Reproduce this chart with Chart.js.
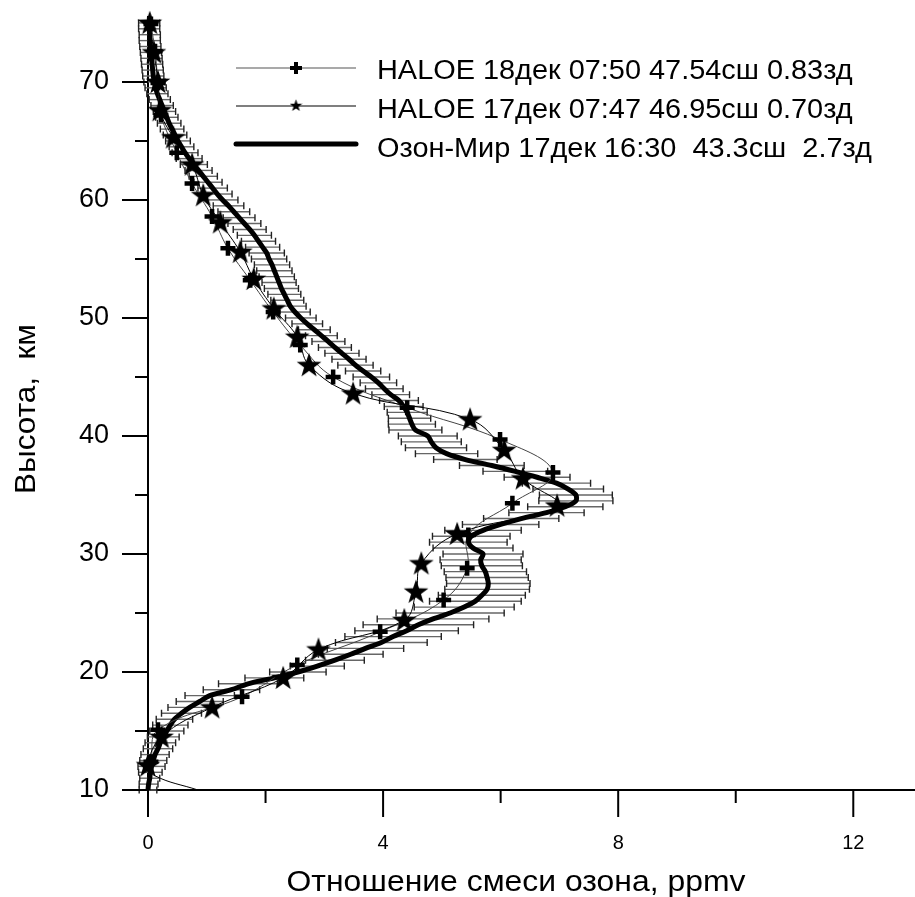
<!DOCTYPE html>
<html>
<head>
<meta charset="utf-8">
<script src="https://cdn.jsdelivr.net/npm/chart.js@4.4.0/dist/chart.umd.min.js"></script>
<style>
  html, body { margin: 0; padding: 0; background: #fff; }
  canvas { display: block; }
</style>
</head>
<body>
<canvas id="ozoneChart" width="915" height="897"></canvas>
<script>
// HALOE 18 dec (crosses)
const haloe18Alt = [74.9, 72.6, 69.9, 67.2, 64.0, 61.4, 58.6, 55.9, 53.2, 50.5, 47.7, 45.0,
  42.4, 39.7, 36.9, 34.3, 31.6, 28.8, 26.1, 23.4, 20.6, 17.9, 15.1, 12.4];
const haloe18Val = [0.05, 0.12, 0.17, 0.22, 0.49, 0.75, 1.09, 1.36, 1.74, 2.13, 2.59, 3.15,
  4.41, 5.99, 6.89, 6.20, 5.45, 5.43, 5.03, 3.95, 2.54, 1.60, 0.17, 0.05];

// HALOE 17 dec (stars), last two points are the tail near the ground, no marker
const haloe17Alt = [75.0, 72.5, 70.0, 67.6, 65.3, 63.0, 60.4, 58.1, 55.6, 53.3, 50.8, 48.4,
  46.0, 43.6, 41.4, 38.8, 36.4, 34.1, 31.7, 29.2, 26.8, 24.4, 21.9, 19.5, 17.0, 14.5, 12.1, 11.2, 10.0];
const haloe17Val = [0.03, 0.10, 0.17, 0.20, 0.43, 0.75, 0.94, 1.23, 1.57, 1.80, 2.14, 2.54,
  2.74, 3.49, 5.48, 6.06, 6.38, 6.96, 5.26, 4.65, 4.56, 4.36, 2.90, 2.30, 1.09, 0.23, 0.00, 0.12, 0.85];

// Ozon-Mir profile with error half-widths
const ozonAlt = [10.0, 10.5, 11.0, 11.5, 12.0, 12.5, 13.0, 13.5, 14.0, 14.5, 15.0, 15.5, 16.0, 16.5,
  17.0, 17.5, 18.0, 18.5, 19.0, 19.5, 20.0, 20.5, 21.0, 21.5, 22.0, 22.5, 23.0, 23.5, 24.0, 24.5,
  25.0, 25.5, 26.0, 26.5, 27.0, 27.5, 28.0, 28.5, 29.0, 29.5, 30.0, 30.5, 31.0, 31.5, 32.0, 32.5,
  33.0, 33.5, 34.0, 34.5, 35.0, 35.5, 36.0, 36.5, 37.0, 37.5, 38.0, 38.5, 39.0, 39.5, 40.0, 40.5,
  41.0, 41.5, 42.0, 42.5, 43.0, 43.5, 44.0, 44.5, 45.0, 45.5, 46.0, 46.5, 47.0, 47.5, 48.0, 48.5,
  49.0, 49.5, 50.0, 50.5, 51.0, 51.5, 52.0, 52.5, 53.0, 53.5, 54.0, 54.5, 55.0, 55.5, 56.0, 56.5,
  57.0, 57.5, 58.0, 58.5, 59.0, 59.5, 60.0, 60.5, 61.0, 61.5, 62.0, 62.5, 63.0, 63.5, 64.0, 64.5,
  65.0, 65.5, 66.0, 66.5, 67.0, 67.5, 68.0, 68.5, 69.0, 69.5, 70.0, 70.5, 71.0, 71.5, 72.0, 72.5,
  73.0, 73.5, 74.0, 74.5, 75.0];
const ozonVal = [0.00, 0.01, 0.03, 0.04, 0.06, 0.09, 0.12, 0.17, 0.21, 0.26, 0.32, 0.38, 0.45, 0.57,
  0.71, 0.88, 1.05, 1.42, 1.70, 2.15, 2.55, 2.88, 3.18, 3.45, 3.70, 3.97, 4.17, 4.40, 4.60, 4.85,
  5.14, 5.38, 5.57, 5.68, 5.77, 5.79, 5.77, 5.74, 5.68, 5.66, 5.70, 5.53, 5.45, 5.50, 5.70, 6.00,
  6.35, 6.78, 7.10, 7.28, 7.28, 7.15, 6.95, 6.62, 6.25, 5.85, 5.40, 5.08, 4.90, 4.82, 4.76, 4.55,
  4.49, 4.45, 4.41, 4.35, 4.27, 4.13, 4.02, 3.92, 3.80, 3.66, 3.53, 3.42, 3.30, 3.18, 3.07, 2.95,
  2.83, 2.71, 2.60, 2.50, 2.42, 2.37, 2.32, 2.27, 2.23, 2.19, 2.15, 2.11, 2.06, 2.02, 1.95, 1.88,
  1.81, 1.73, 1.64, 1.55, 1.46, 1.37, 1.27, 1.18, 1.10, 1.02, 0.94, 0.86, 0.78, 0.70, 0.63, 0.57,
  0.51, 0.46, 0.41, 0.36, 0.32, 0.28, 0.24, 0.20, 0.16, 0.13, 0.11, 0.09, 0.08, 0.07, 0.06, 0.05,
  0.04, 0.03, 0.03, 0.02, 0.02];
const ozonErr = [0.15, 0.16, 0.17, 0.20, 0.23, 0.23, 0.24, 0.25, 0.26, 0.27, 0.29, 0.30, 0.31, 0.34,
  0.37, 0.40, 0.42, 0.48, 0.50, 0.50, 0.48, 0.46, 0.50, 0.55, 0.65, 0.78, 0.82, 0.88, 0.94, 0.95,
  0.92, 0.85, 0.78, 0.74, 0.72, 0.71, 0.70, 0.70, 0.69, 0.69, 0.68, 0.68, 0.66, 0.66, 0.65, 0.65,
  0.64, 0.64, 0.64, 0.63, 0.62, 0.60, 0.58, 0.56, 0.55, 0.55, 0.54, 0.53, 0.52, 0.51, 0.50, 0.45,
  0.40, 0.36, 0.34, 0.33, 0.33, 0.32, 0.32, 0.31, 0.31, 0.30, 0.30, 0.29, 0.29, 0.28, 0.28, 0.27,
  0.27, 0.26, 0.26, 0.26, 0.27, 0.28, 0.28, 0.29, 0.29, 0.30, 0.30, 0.30, 0.30, 0.30, 0.29, 0.29,
  0.29, 0.28, 0.28, 0.27, 0.27, 0.26, 0.26, 0.25, 0.25, 0.24, 0.24, 0.23, 0.23, 0.22, 0.22, 0.21,
  0.21, 0.20, 0.20, 0.20, 0.19, 0.19, 0.19, 0.18, 0.18, 0.18, 0.18, 0.18, 0.18, 0.18, 0.18, 0.18,
  0.18, 0.18, 0.18, 0.18, 0.18];

const seriesLabels = [
  "HALOE 18дек 07:50 47.54сш 0.83зд",
  "HALOE 17дек 07:47 46.95сш 0.70зд",
  "Озон-Мир 17дек 16:30  43.3сш  2.7зд",
];
const xTitle = "Отношение смеси озона, ppmv";
const yTitle = "Высота,  км";

const FONT = "'Liberation Sans', Arial, sans-serif";

function makeStar(size) {
  const c = document.createElement("canvas");
  c.width = size;
  c.height = size;
  const g = c.getContext("2d");
  const r = size / 2;
  g.beginPath();
  for (let i = 0; i < 10; i++) {
    const rad = i % 2 ? r * 0.4 : r;
    const a = -Math.PI / 2 + (i * Math.PI) / 5;
    const px = r + rad * Math.cos(a);
    const py = r * 1.05 + rad * Math.sin(a);
    if (i === 0) g.moveTo(px, py);
    else g.lineTo(px, py);
  }
  g.closePath();
  g.fillStyle = "#000";
  g.fill();
  return c;
}

const bigStar = makeStar(26);
const smallStar = makeStar(13);

const toPoints = (xs, ys) => xs.map((v, i) => ({ x: v, y: ys[i] }));

// error bars under the Ozon-Mir curve
const errorBars = {
  id: "errorBars",
  beforeDatasetsDraw(chart) {
    const { ctx, scales } = chart;
    ctx.save();
    ctx.lineWidth = 1.4;
    for (let i = 0; i < ozonAlt.length; i++) {
      const py = scales.y.getPixelForValue(ozonAlt[i]);
      const x1 = scales.x.getPixelForValue(ozonVal[i] - ozonErr[i]);
      const x2 = scales.x.getPixelForValue(ozonVal[i] + ozonErr[i]);
      ctx.strokeStyle = "#666";
      ctx.beginPath();
      ctx.moveTo(x1, py);
      ctx.lineTo(x2, py);
      ctx.stroke();
      ctx.strokeStyle = "#222";
      ctx.beginPath();
      ctx.moveTo(x1, py - 3.5);
      ctx.lineTo(x1, py + 3.5);
      ctx.moveTo(x2, py - 3.5);
      ctx.lineTo(x2, py + 3.5);
      ctx.stroke();
    }
    ctx.restore();
  },
};

// outward tick marks, long for labelled ticks
const tickMarks = {
  id: "tickMarks",
  afterDraw(chart) {
    const { ctx, scales, chartArea } = chart;
    ctx.save();
    ctx.strokeStyle = "#000";
    ctx.lineWidth = 2;
    ctx.beginPath();
    scales.x.ticks.forEach((t) => {
      const px = scales.x.getPixelForValue(t.value);
      const len = t.value % 4 === 0 ? 27 : 13;
      ctx.moveTo(px, chartArea.bottom);
      ctx.lineTo(px, chartArea.bottom + len);
    });
    scales.y.ticks.forEach((t) => {
      if (t.value > 72) return;
      const py = scales.y.getPixelForValue(t.value);
      const len = t.value % 10 === 0 ? 26 : 13;
      ctx.moveTo(chartArea.left - len, py);
      ctx.lineTo(chartArea.left, py);
    });
    ctx.stroke();
    ctx.restore();
  },
};

// text slightly stretched horizontally, as in the original figure
function wideText(ctx, text, x, y, stretch) {
  ctx.save();
  ctx.translate(x, y);
  ctx.scale(stretch, 1);
  ctx.fillText(text, 0, 0);
  ctx.restore();
}

// axis titles and the legend box
const annotations = {
  id: "annotations",
  afterDraw(chart) {
    const { ctx } = chart;
    ctx.save();
    ctx.fillStyle = "#000";
    ctx.textAlign = "center";
    ctx.textBaseline = "alphabetic";
    ctx.font = "29px " + FONT;
    wideText(ctx, xTitle, 516, 891, 1.1);

    ctx.translate(27, 409);
    ctx.rotate(-Math.PI / 2);
    ctx.textBaseline = "middle";
    ctx.font = "30px " + FONT;
    wideText(ctx, yTitle, 0, 0, 1.05);
    ctx.restore();

    // legend
    ctx.save();
    const lx1 = 236, lx2 = 356, mx = 296;
    const rows = [68, 106, 144];
    ctx.lineCap = "butt";
    ctx.strokeStyle = "#555";
    ctx.lineWidth = 1.2;
    ctx.beginPath();
    ctx.moveTo(lx1, rows[0]);
    ctx.lineTo(lx2, rows[0]);
    ctx.stroke();
    ctx.strokeStyle = "#000";
    ctx.lineWidth = 4;
    ctx.beginPath();
    ctx.moveTo(mx - 6, rows[0]);
    ctx.lineTo(mx + 6, rows[0]);
    ctx.moveTo(mx, rows[0] - 6);
    ctx.lineTo(mx, rows[0] + 6);
    ctx.stroke();

    ctx.lineWidth = 1.2;
    ctx.beginPath();
    ctx.moveTo(lx1, rows[1]);
    ctx.lineTo(lx2, rows[1]);
    ctx.stroke();
    ctx.drawImage(smallStar, mx - 6.5, rows[1] - 7);

    ctx.lineWidth = 5;
    ctx.lineCap = "round";
    ctx.beginPath();
    ctx.moveTo(lx1, rows[2]);
    ctx.lineTo(lx2, rows[2]);
    ctx.stroke();

    ctx.fillStyle = "#000";
    ctx.font = "27px " + FONT;
    ctx.textAlign = "left";
    ctx.textBaseline = "alphabetic";
    wideText(ctx, seriesLabels[0], 377, 79, 1.07);
    wideText(ctx, seriesLabels[1], 377, 118, 1.07);
    wideText(ctx, seriesLabels[2], 377, 157, 1.07);
    ctx.restore();
  },
};

const ctx = document.getElementById("ozoneChart").getContext("2d");

new Chart(ctx, {
  type: "line",
  data: {
    datasets: [
      {
        label: seriesLabels[2],
        data: toPoints(ozonVal, ozonAlt),
        borderColor: "#000",
        borderWidth: 5,
        pointRadius: 0,
        tension: 0.3,
        clip: false,
        order: 3,
      },
      {
        label: seriesLabels[0],
        data: toPoints(haloe18Val, haloe18Alt),
        borderColor: "#444",
        borderWidth: 1,
        tension: 0.4,
        pointStyle: "cross",
        pointRadius: 7.5,
        pointBorderWidth: 4.5,
        pointBorderColor: "#000",
        clip: false,
        order: 2,
      },
      {
        label: seriesLabels[1],
        data: toPoints(haloe17Val, haloe17Alt),
        borderColor: "#000",
        borderWidth: 1,
        tension: 0.4,
        pointStyle: bigStar,
        pointRadius: haloe17Alt.map((a, i) => (i >= haloe17Alt.length - 2 ? 0 : 12)),
        clip: false,
        order: 1,
      },
    ],
  },
  options: {
    responsive: false,
    animation: false,
    layout: { autoPadding: false, padding: { top: 17, right: 0, bottom: 0, left: 0 } },
    plugins: { legend: { display: false }, tooltip: { enabled: false } },
    scales: {
      x: {
        type: "linear",
        min: 0,
        max: 13.05,
        afterFit: (s) => {
          s.height = 107;
          s.paddingLeft = 0;
          s.paddingRight = 0;
        },
        grid: { display: false, drawTicks: true, tickLength: 27 },
        border: { display: true, color: "#000", width: 2 },
        ticks: {
          stepSize: 2,
          includeBounds: false,
          autoSkip: false,
          maxRotation: 0,
          padding: 14,
          color: "#000",
          font: { family: FONT, size: 20 },
          callback: (v) => (v % 4 === 0 ? v : ""),
        },
      },
      y: {
        type: "linear",
        min: 10,
        max: 75.5,
        afterFit: (s) => {
          s.width = 148;
          s.paddingTop = 0;
          s.paddingBottom = 0;
        },
        grid: { display: false, drawTicks: true, tickLength: 26 },
        border: { display: true, color: "#000", width: 2 },
        ticks: {
          stepSize: 5,
          includeBounds: false,
          autoSkip: false,
          padding: 13,
          color: "#000",
          font: { family: FONT, size: 27 },
          callback: (v) => (v % 10 === 0 ? v : ""),
        },
      },
    },
  },
  plugins: [errorBars, tickMarks, annotations],
});
</script>
</body>
</html>
